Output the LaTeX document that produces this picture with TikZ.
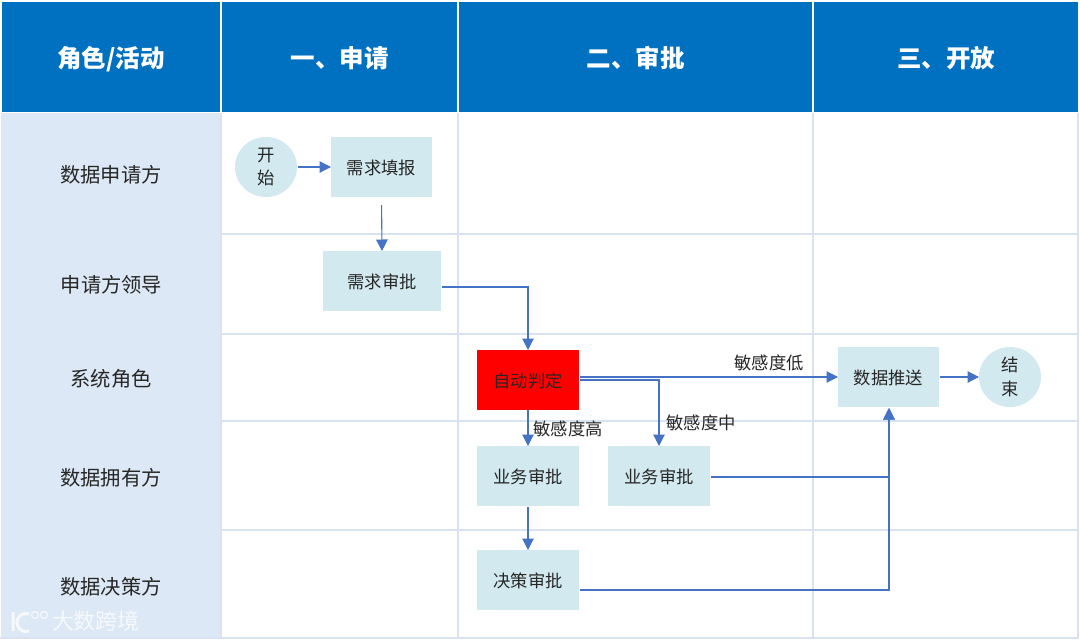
\documentclass[tikz,border=0pt]{standalone}
\usepackage{fontspec}
\setmainfont{Noto Sans CJK SC}
\usetikzlibrary{arrows.meta,shapes.geometric}
\definecolor{headblue}{HTML}{0070C0}
\definecolor{lanefill}{HTML}{DCE8F5}
\definecolor{gridline}{HTML}{D9E2F3}
\definecolor{boxfill}{HTML}{D2E9EF}
\definecolor{linkblue}{HTML}{4472C4}
\definecolor{inktext}{HTML}{262626}
\tikzset{
    headcell/.style={fill=headblue,text=white,inner sep=0,outer sep=0,text height=20pt,text depth=0pt,font=\fontsize{24.5}{27}\selectfont\bfseries},
    lanelabel/.style={text=inktext,inner sep=0,font=\fontsize{20.3}{24}\selectfont},
    stepbox/.style={fill=boxfill,text=inktext,inner sep=0,outer sep=0,minimum height=60pt,text height=14.5pt,text depth=0pt,font=\fontsize{17.3}{21}\selectfont},
    endcircle/.style={fill=boxfill,text=inktext,ellipse,inner sep=0,outer sep=0,minimum width=62pt,minimum height=60pt,align=center,font=\fontsize{17.3}{23.5}\selectfont},
    linklabel/.style={text=inktext,inner sep=0,font=\fontsize{17.3}{21}\selectfont},
    link/.style={linkblue,line width=1.1pt,-{Triangle[width=11.5pt,length=11.5pt]}},
    gridstroke/.style={gridline,line width=2pt},
    markink/.style={white,opacity=.75}
}
\begin{document}
\begin{tikzpicture}[x=1pt,y=-1pt]
    \useasboundingbox (0,0) rectangle (1080,641);
    \fill[white] (0,0) rectangle (1080,641);
    % lanes and grid
    \fill[lanefill] (1,113) rectangle (221,638);
    \draw[gridstroke] (221,113)--(221,638);
    \draw[gridstroke] (458,113)--(458,638);
    \draw[gridstroke] (813,113)--(813,638);
    \draw[gridstroke] (1078,113)--(1078,638);
    \draw[gridstroke] (221,233.5)--(1079,233.5);
    \draw[gridstroke] (221,333.5)--(1079,333.5);
    \draw[gridstroke] (221,421)--(1079,421);
    \draw[gridstroke] (221,530)--(1079,530);
    \draw[gridstroke] (0,638)--(1079,638);
    % header row
    \node[headcell,minimum width=218pt,minimum height=110pt] (headrole) at (111,57) {角色/活动};
    \node[headcell,minimum width=235pt,minimum height=110pt] (headapply) at (339.5,57) {一、申请};
    \node[headcell,minimum width=353pt,minimum height=110pt] (headreview) at (635.5,57) {二、审批};
    \node[headcell,minimum width=264pt,minimum height=110pt] (headopen) at (946,57) {三、开放};
    % lane names
    \node[lanelabel] (laneapplicant) at (111,174.5) {数据申请方};
    \node[lanelabel] (laneleader) at (111.5,284.5) {申请方领导};
    \node[lanelabel] (lanesystem) at (111,378.5) {系统角色};
    \node[lanelabel] (laneowner) at (111,477.5) {数据拥有方};
    \node[lanelabel] (lanedecider) at (111,586.5) {数据决策方};
    % steps
    \node[endcircle] (start) at (266,167) {开\\始};
    \node[stepbox,minimum width=101pt] (fillin) at (381.5,167) {需求填报};
    \node[stepbox,minimum width=118pt] (leadcheck) at (382,281) {需求审批};
    \node[stepbox,minimum width=102pt,fill=red] (auto) at (528,380) {自动判定};
    \node[stepbox,minimum width=102pt] (bizhigh) at (528,476) {业务审批};
    \node[stepbox,minimum width=102pt] (bizmid) at (659,476) {业务审批};
    \node[stepbox,minimum width=102pt] (decide) at (528,580) {决策审批};
    \node[stepbox,minimum width=101pt] (push) at (888.5,377) {数据推送};
    \node[endcircle] (finish) at (1010,377) {结\\束};
    % links
    \draw[link,shorten <=1pt] (start.east)--(fillin.west);
    \draw[link,shorten <=8pt] (fillin.south)--(leadcheck.north);
    \draw[link,shorten <=1pt] ([yshift=-6pt]leadcheck.east)-|(auto.north);
    \draw[link,shorten <=1pt] ([yshift=3pt]auto.east)--(push.west);
    \draw[link,shorten <=1pt] (auto.east)-|(bizmid.north);
    \draw[link] (auto.south)--(bizhigh.north);
    \draw[link,shorten <=1pt] (bizhigh.south)--(decide.north);
    \draw[link,shorten <=1pt] (push.east)--(finish.west);
    \draw[link,shorten <=1pt,shorten >=1pt] ([yshift=-1pt]bizmid.east)-|([xshift=.5pt]push.south);
    \draw[link,shorten <=1pt,shorten >=1pt] ([yshift=-10pt]decide.east)-|([xshift=.5pt]push.south);
    % link labels
    \node[linklabel] (sensehigh) at (568,429) {敏感度高};
    \node[linklabel] (sensemid) at (701,423) {敏感度中};
    \node[linklabel] (senselow) at (769,363) {敏感度低};
    % watermark
    \node[markink,inner sep=0,font=\fontsize{22}{24}\selectfont] (mark) at (96,621) {大数跨境};
    \draw[markink,line width=3pt] (13,612)--(13,631) (29,614) arc (290:70:9 and 9);
    \draw[markink,line width=1.2pt] (35,615) circle (3.5 and 3.5) (44,615) circle (3.5 and 3.5);
\end{tikzpicture}
\end{document}
